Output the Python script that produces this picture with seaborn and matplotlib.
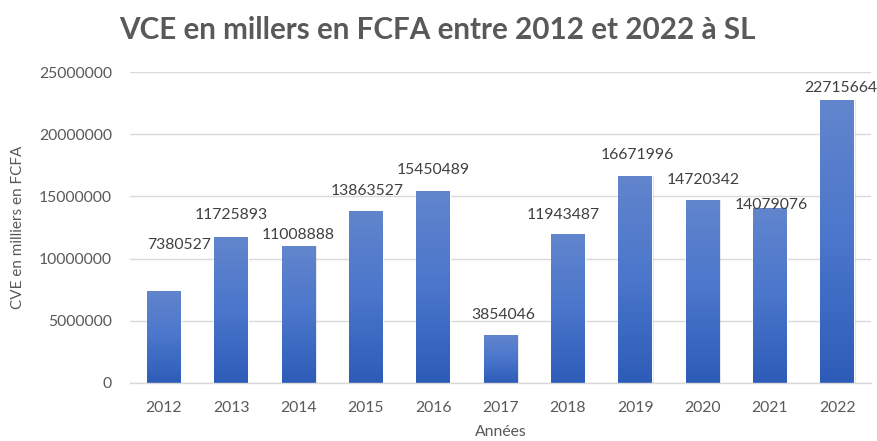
import numpy as np
import pandas as pd
import matplotlib
matplotlib.use("Agg")
import matplotlib.pyplot as plt
import seaborn as sns
from matplotlib.colors import LinearSegmentedColormap

years = ["2012", "2013", "2014", "2015", "2016", "2017", "2018", "2019", "2020", "2021", "2022"]
values = [7380527, 11725893, 11008888, 13863527, 15450489, 3854046,
          11943487, 16671996, 14720342, 14079076, 22715664]
y_ticks = [0, 5000000, 10000000, 15000000, 20000000, 25000000]
title = "VCE en millers en FCFA entre 2012 et 2022 à SL"
ylabel = "CVE en milliers en FCFA"
xlabel = "Années"

# label offsets (pixels) relative to bar top centre, as in the reference
label_dx = [15, 0, 0, 1, 0, 3, -5, 2, 1, 1, 3]
label_dy = [46, 22, 11, 20, 21, 20, 19, 21, 20, 3, 12]

sns.set_theme(style="white")
plt.rcParams["font.family"] = ["Lato", "DejaVu Sans"]
TXT = "#595959"

df = pd.DataFrame({"year": years, "value": values})

fig = plt.figure(figsize=(8.77, 4.41), dpi=100)
ax = fig.add_axes([130 / 877, 58 / 441, 741 / 877, 311 / 441])

sns.barplot(data=df, x="year", y="value", color="#4472C4", width=0.5, ax=ax,
            saturation=1, zorder=3)

ax.set_ylim(0, 25000000)
ax.set_xlim(-0.5, len(years) - 0.5)
ax.set_yticks(y_ticks)
ax.set_yticklabels([str(t) for t in y_ticks])

# gradient fill
cmap = LinearSegmentedColormap.from_list("g", ["#2D5CB8", "#4A76CB", "#6285CD"])
grad = np.linspace(0, 1, 256).reshape(-1, 1)
for p in list(ax.patches):
    x0, y0 = p.get_x(), p.get_y()
    w, h = p.get_width(), p.get_height()
    sh = plt.Rectangle((x0 + 0.012, y0), w + 0.01, h, color="#000000", alpha=0.12,
                       zorder=2.5, lw=0)
    ax.add_patch(sh)
    im = ax.imshow(grad, extent=[x0, x0 + w, y0, y0 + h], origin="lower",
                   cmap=cmap, aspect="auto", zorder=3.5, interpolation="bicubic")
    im.set_clip_path(p)
ax.set_xlim(-0.5, len(years) - 0.5)
ax.set_ylim(0, 25000000)

# data labels
for i, v in enumerate(values):
    ax.annotate(str(v), xy=(i, v), xytext=(label_dx[i], label_dy[i]),
                textcoords="offset pixels", ha="center", va="center",
                fontsize=11.3, color="#404040", zorder=5)

ax.yaxis.grid(True, color="#D9D9D9", linewidth=1, zorder=0)
ax.xaxis.grid(False)
for s in ["top", "right", "left"]:
    ax.spines[s].set_visible(False)
ax.spines["bottom"].set_color("#D9D9D9")
ax.spines["bottom"].set_linewidth(1)
ax.spines["bottom"].set_zorder(4)

ax.tick_params(axis="both", length=0, labelsize=11.3, labelcolor=TXT)
ax.tick_params(axis="y", pad=13)
ax.tick_params(axis="x", pad=13)

ax.set_xlabel(xlabel, fontsize=11.3, color=TXT, labelpad=7)
ax.set_ylabel(ylabel, fontsize=11, color=TXT)
ax.yaxis.set_label_coords(-0.142, 0.5)

fig.text(437 / 877, 1 - 30 / 441, title, ha="center", va="center",
         fontsize=21.3, fontweight="bold", color=TXT)

fig.savefig("out.png", dpi=100, facecolor="white")
